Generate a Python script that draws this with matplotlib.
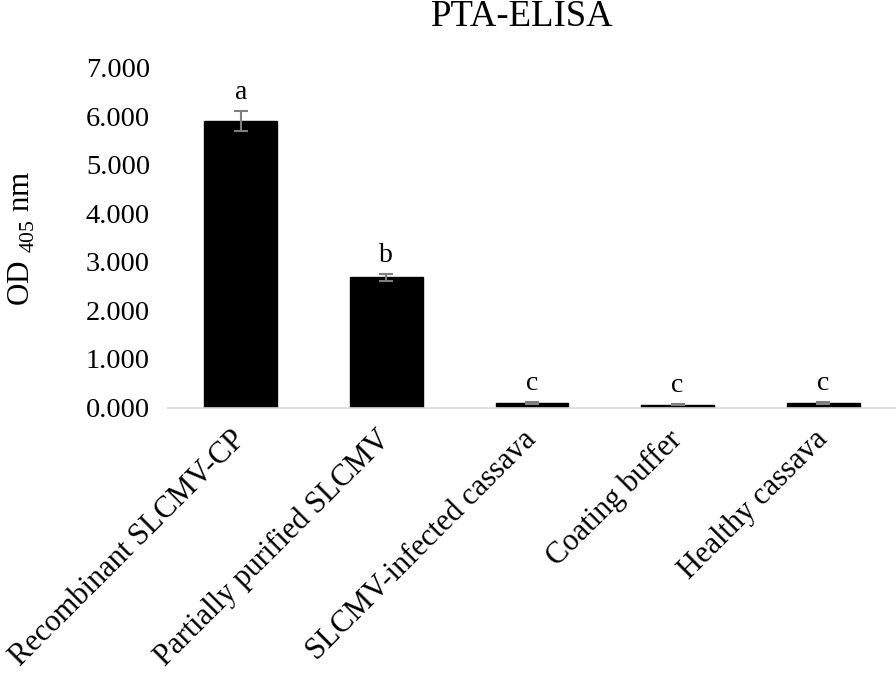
import matplotlib
matplotlib.use("Agg")
import matplotlib.pyplot as plt
import numpy as np

categories = ["Recombinant SLCMV-CP", "Partially purified SLCMV",
              "SLCMV-infected cassava", "Coating buffer", "Healthy cassava"]
values = [5.90, 2.68, 0.09, 0.06, 0.09]
errors = [0.20, 0.07, 0.02, 0.01, 0.02]
letters = ["a", "b", "c", "c", "c"]
yticks = [0, 1, 2, 3, 4, 5, 6, 7]

plt.rcParams['font.family'] = ['Liberation Serif', 'DejaVu Serif']
plt.rcParams['mathtext.fontset'] = 'custom'
plt.rcParams['mathtext.rm'] = 'Liberation Serif'

fig = plt.figure(figsize=(8.96, 6.84), dpi=100)
ax = fig.add_axes([0.1875, 0.4042, 0.8125, 0.497])

x = np.arange(len(categories))
ax.bar(x, values, width=0.5, color='black', edgecolor='black', zorder=2)
ax.errorbar(x, values, yerr=errors, fmt='none', ecolor='#7f7f7f',
            elinewidth=1.5, capsize=4.7, capthick=1.5, zorder=3)
for xi, v, e, l in zip(x, values, errors, letters):
    ax.text(xi, v + e + 0.25, l, ha='center', va='baseline', fontsize=20)

ax.set_xlim(-0.5, len(categories) - 0.5)
ax.set_ylim(0, 7)
ax.set_yticks(yticks)
ax.set_yticklabels([f"{t:.3f}" for t in yticks], fontsize=20.5)
ax.set_xticks(x)
ax.set_xticklabels(categories, rotation=45, ha='right', va='center',
                   rotation_mode='anchor', fontsize=22)
ax.tick_params(axis='y', length=0, pad=13)
ax.tick_params(axis='x', length=0, pad=20)
for s in ['top', 'right', 'left']:
    ax.spines[s].set_visible(False)
ax.spines['bottom'].set_color('#d9d9d9')
ax.spines['bottom'].set_linewidth(1.2)
fig.text(22 / 896, 1 - 238 / 684, r"OD $_{405}$ nm", rotation=90,
         ha='center', va='center', fontsize=22.4)
fig.text(0.583, 0.962, "PTA-ELISA", ha='center', va='baseline', fontsize=26.5)

fig.savefig("out.png", dpi=100)
